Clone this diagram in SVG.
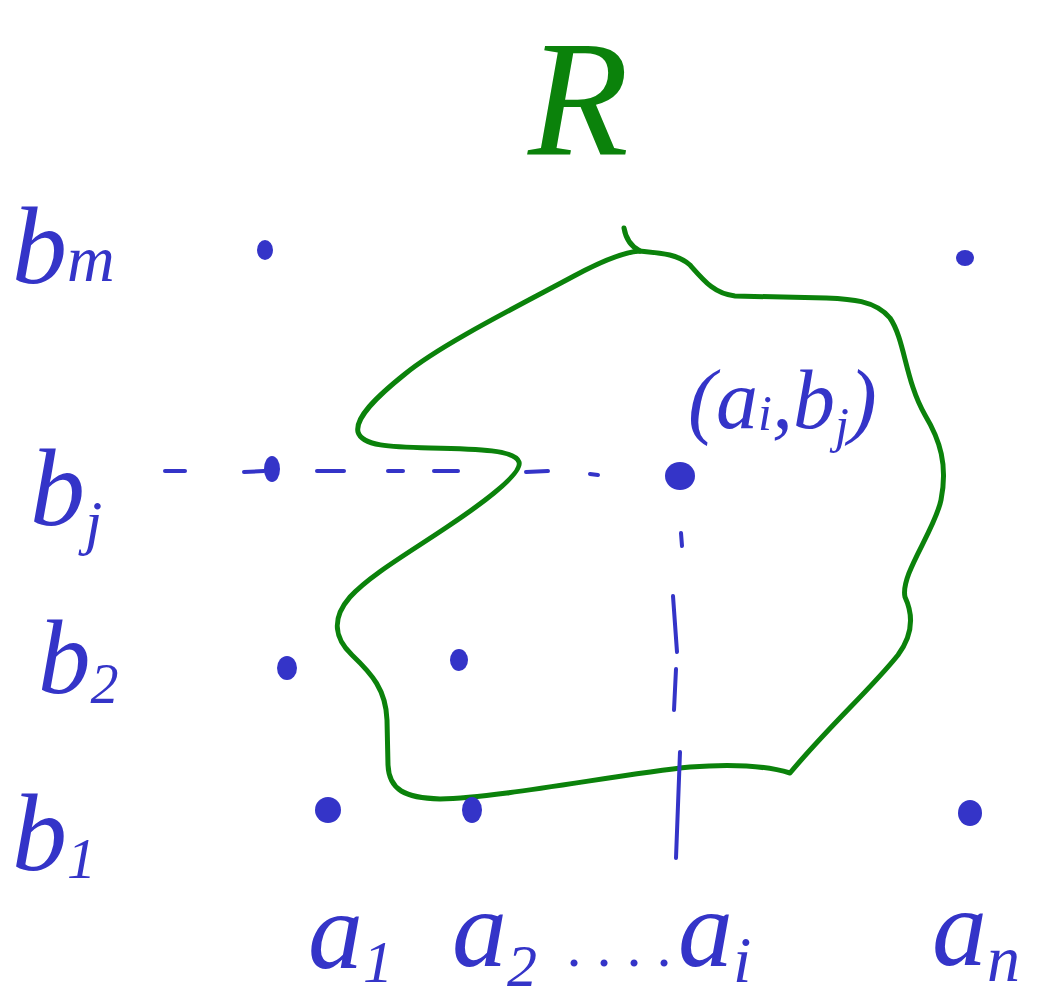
<svg xmlns="http://www.w3.org/2000/svg" width="1045" height="1001" viewBox="0 0 1045 1001">
<style>
.lbl{font-family:"Liberation Serif","DejaVu Serif",serif;font-style:italic;fill:#3434c8}
.dot{fill:#3434c8}
.dash{stroke:#3434c8;stroke-width:4;stroke-linecap:round;fill:none}
.region{stroke:#0b820b;stroke-width:5;fill:none;stroke-linejoin:round;stroke-linecap:round}
.rlbl{font-family:"Liberation Serif","DejaVu Serif",serif;font-style:italic;fill:#0b820b}
</style>
<rect width="1045" height="1001" fill="#ffffff"/>
<g id="region">
<path class="region" d="M640 251 C625 252 600 262 574 276 C520 305 440 345 405 374 C375 398 355 418 358 432 C362 446 390 447 430 448 C480 449 515 450 519 462 C523 474 480 505 447 527 C410 552 370 575 350 597 C330 620 336 640 352 655 C372 674 386 690 387 720 L388 765 C389 790 405 798 440 799 C500 798 620 774 690 767 C740 763 770 767 790 773 C830 725 870 690 898 655 C915 632 912 612 905 597 C900 575 935 530 941 500 C948 465 940 440 925 415 C905 380 905 340 890 318 C875 300 850 299 826 298 L735 296 C715 294 705 282 690 265 C678 254 660 253 640 251 Z"/>
<path class="region" d="M624 228 C626 240 632 247 640 251"/>
<text class="rlbl" x="528" y="155" font-size="165">R</text>
</g>
<g id="connectors">
<line class="dash" x1="165" y1="471" x2="185" y2="471"/>
<line class="dash" x1="244" y1="472" x2="264" y2="471"/>
<line class="dash" x1="317" y1="471" x2="344" y2="471"/>
<line class="dash" x1="388" y1="471" x2="403" y2="471"/>
<line class="dash" x1="434" y1="471" x2="458" y2="471"/>
<line class="dash" x1="526" y1="472" x2="548" y2="471"/>
<line class="dash" x1="590" y1="474" x2="598" y2="475"/>
<line class="dash" x1="681" y1="533" x2="682" y2="546"/>
<line class="dash" x1="673" y1="596" x2="677" y2="652"/>
<line class="dash" x1="676" y1="669" x2="674" y2="710"/>
<line class="dash" x1="680" y1="752" x2="676" y2="858"/>
</g>
<g id="points">
<g id="p-a1-bm"><ellipse class="dot" cx="265" cy="250" rx="8" ry="10"/></g>
<g id="p-an-bm"><ellipse class="dot" cx="965" cy="258" rx="9" ry="8"/></g>
<g id="p-a1-bj"><ellipse class="dot" cx="272" cy="469" rx="8" ry="13"/></g>
<g id="p-ai-bj"><ellipse class="dot" cx="680" cy="476" rx="15" ry="14"/></g>
<g id="p-a1-b2"><ellipse class="dot" cx="287" cy="668" rx="10" ry="12"/></g>
<g id="p-a2-b2"><ellipse class="dot" cx="459" cy="660" rx="9" ry="11"/></g>
<g id="p-a1-b1"><ellipse class="dot" cx="328" cy="810" rx="13" ry="13"/></g>
<g id="p-a2-b1"><ellipse class="dot" cx="472" cy="810" rx="10" ry="13"/></g>
<g id="p-an-b1"><ellipse class="dot" cx="970" cy="813" rx="12" ry="13"/></g>
</g>
<g id="labels">
<text id="lbl-bm" class="lbl" x="12" y="283" font-size="110">b<tspan font-size="66" dy="-2">m</tspan></text>
<text id="lbl-bj" class="lbl" x="30" y="525" font-size="110">b<tspan font-size="62" dy="18">j</tspan></text>
<text id="lbl-b2" class="lbl" x="38" y="693" font-size="105">b<tspan font-size="56" dy="10">2</tspan></text>
<text id="lbl-b1" class="lbl" x="12" y="870" font-size="110">b<tspan font-size="58" dy="8">1</tspan></text>
<text id="lbl-a1" class="lbl" x="308" y="968" font-size="110">a<tspan font-size="60" dy="14">1</tspan></text>
<text id="lbl-a2" class="lbl" x="452" y="966" font-size="110">a<tspan font-size="60" dy="20">2</tspan><tspan font-size="60" x="568" dy="-20">. . . .</tspan></text>
<text id="lbl-ai" class="lbl" x="678" y="966" font-size="110">a<tspan font-size="66" dy="16">i</tspan></text>
<text id="lbl-an" class="lbl" x="932" y="965" font-size="110">a<tspan font-size="66" dy="16">n</tspan></text>
<text id="lbl-aibj" class="lbl" x="688" y="428" font-size="84">(a<tspan font-size="50" dy="2">i</tspan><tspan dy="-2">,b</tspan><tspan font-size="50" dy="14">j</tspan><tspan dy="-14">)</tspan></text>
</g>
</svg>
